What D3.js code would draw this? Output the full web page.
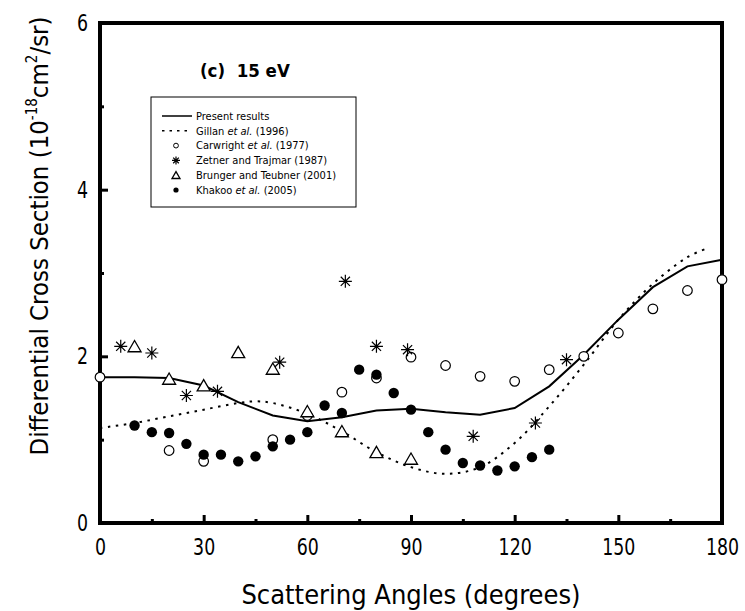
<!DOCTYPE html>
<html>
<head>
<meta charset="utf-8">
<script src="https://cdn.jsdelivr.net/npm/d3@7/dist/d3.min.js"></script>
<style>
  html, body { margin: 0; padding: 0; background: #fff; }
  svg { display: block; }
  text { font-family: "DejaVu Sans Condensed", "DejaVu Sans", sans-serif; fill: #000; }
</style>
</head>
<body>
<svg id="chart" width="745" height="611"></svg>
<script>
// Differential cross sections at 15 eV (units of 1e-18 cm^2/sr)
const presentAngles = [0, 10, 20, 30, 40, 50, 60, 70, 80, 90, 100, 110, 120, 130, 140, 150, 160, 170, 180];
const presentValues = [1.75, 1.75, 1.74, 1.65, 1.45, 1.29, 1.22, 1.27, 1.35, 1.37, 1.33, 1.30, 1.38, 1.64, 2.02, 2.44, 2.83, 3.08, 3.16];

const gillanAngles = [0, 10, 20, 30, 40, 45, 50, 60, 70, 80, 90, 100, 110, 120, 130, 140, 150, 160, 170, 176];
const gillanValues = [1.14, 1.20, 1.28, 1.36, 1.44, 1.46, 1.44, 1.31, 1.10, 0.85, 0.67, 0.59, 0.67, 0.96, 1.40, 1.90, 2.44, 2.87, 3.19, 3.30];

const carwrightAngles = [0, 20, 30, 50, 60, 70, 80, 90, 100, 110, 120, 130, 140, 150, 160, 170, 180];
const carwrightValues = [1.75, 0.87, 0.74, 1.00, 1.29, 1.57, 1.74, 1.99, 1.89, 1.76, 1.70, 1.84, 2.00, 2.28, 2.57, 2.79, 2.92];

const zetnerAngles = [6, 15, 25, 34, 52, 71, 80, 89, 108, 126, 135];
const zetnerValues = [2.12, 2.04, 1.53, 1.58, 1.93, 2.90, 2.12, 2.08, 1.04, 1.20, 1.96];

const brungerAngles = [10, 20, 30, 40, 50, 60, 70, 80, 90];
const brungerValues = [2.10, 1.71, 1.63, 2.03, 1.83, 1.32, 1.08, 0.83, 0.75];

const khakooAngles = [10, 15, 20, 25, 30, 35, 40, 45, 50, 55, 60, 65, 70, 75, 80, 85, 90, 95, 100, 105, 110, 115, 120, 125, 130];
const khakooValues = [1.17, 1.09, 1.08, 0.95, 0.82, 0.82, 0.74, 0.80, 0.92, 1.00, 1.09, 1.41, 1.32, 1.84, 1.78, 1.56, 1.36, 1.09, 0.88, 0.72, 0.69, 0.63, 0.68, 0.79, 0.88];

const xMajorTicks = [0, 30, 60, 90, 120, 150, 180];
const xMinorTicks = [15, 45, 75, 105, 135, 165];
const yMajorTicks = [0, 2, 4, 6];
const yMinorTicks = [1, 3, 5];

const legendLabels = [
  ["Present results"],
  ["Gillan ", "et al.", " (1996)"],
  ["Carwright ", "et al.", " (1977)"],
  ["Zetner and Trajmar (1987)"],
  ["Brunger and Teubner (2001)"],
  ["Khakoo ", "et al.", " (2005)"]
];

const zip = (a, b) => a.map((d, i) => [d, b[i]]);

const svg = d3.select("#chart");
const plotLeft = 100, plotRight = 722, plotTop = 23, plotBottom = 523;
const x = d3.scaleLinear().domain([0, 180]).range([plotLeft, plotRight]);
const y = d3.scaleLinear().domain([0, 6]).range([plotBottom, plotTop]);

// tick labels are set in a narrow face: tall digits, squeezed horizontally
const tickFont = 23, squeeze = 0.84;

// axes with inward ticks
const gx = svg.append("g").attr("transform", `translate(0,${plotBottom})`)
  .call(d3.axisBottom(x).tickValues(xMajorTicks).tickSizeInner(-8).tickSizeOuter(0).tickPadding(16).tickFormat(d3.format("d")));
gx.select(".domain").remove();
gx.selectAll("line").attr("stroke-width", 3);
gx.selectAll("text").attr("font-size", tickFont).attr("transform", `scale(${squeeze},1)`);

const gxm = svg.append("g").attr("transform", `translate(0,${plotBottom})`)
  .call(d3.axisBottom(x).tickValues(xMinorTicks).tickSizeInner(-4).tickSizeOuter(0).tickFormat(""));
gxm.select(".domain").remove();
gxm.selectAll("line").attr("stroke-width", 3);

const gy = svg.append("g").attr("transform", `translate(${plotLeft},0)`)
  .call(d3.axisLeft(y).tickValues(yMajorTicks).tickSizeInner(-8).tickSizeOuter(0).tickPadding(12).tickFormat(d3.format("d")));
gy.select(".domain").remove();
gy.selectAll("line").attr("stroke-width", 3);
gy.selectAll("text").attr("font-size", tickFont)
  .attr("x", -12 / squeeze).attr("transform", `scale(${squeeze},1)`);

const gym = svg.append("g").attr("transform", `translate(${plotLeft},0)`)
  .call(d3.axisLeft(y).tickValues(yMinorTicks).tickSizeInner(-4).tickSizeOuter(0).tickFormat(""));
gym.select(".domain").remove();
gym.selectAll("line").attr("stroke-width", 3);

// plot frame
svg.append("rect")
  .attr("x", plotLeft).attr("y", plotTop)
  .attr("width", plotRight - plotLeft).attr("height", plotBottom - plotTop)
  .attr("fill", "none").attr("stroke", "#000").attr("stroke-width", 4);

// theory curves
const line = d3.line().x(d => x(d[0])).y(d => y(d[1]));
svg.append("path")
  .attr("d", line(zip(presentAngles, presentValues)))
  .attr("fill", "none").attr("stroke", "#000").attr("stroke-width", 2);

svg.append("path")
  .attr("d", line.curve(d3.curveCatmullRom)(zip(gillanAngles, gillanValues)))
  .attr("fill", "none").attr("stroke", "#000").attr("stroke-width", 2)
  .attr("stroke-dasharray", "2.5,5.5");

// marker drawing helpers
function asterisk(g, cx, cy, r) {
  const p = d3.path();
  for (let k = 0; k < 4; k++) {
    const a = k * Math.PI / 4;
    p.moveTo(cx - r * Math.cos(a), cy - r * Math.sin(a));
    p.lineTo(cx + r * Math.cos(a), cy + r * Math.sin(a));
  }
  g.append("path").attr("d", p.toString()).attr("stroke", "#000").attr("stroke-width", 1.2).attr("fill", "none");
}
function triangle(g, cx, cy, s) {
  const h = s * Math.sqrt(3) / 2;
  const pts = [[cx, cy - h * 2 / 3], [cx + s / 2, cy + h / 3], [cx - s / 2, cy + h / 3]];
  g.append("path").attr("d", "M" + pts.join("L") + "Z")
    .attr("fill", "#fff").attr("stroke", "#000").attr("stroke-width", 1.3);
}

const marks = svg.append("g");
// Carwright: open circles
marks.selectAll("circle.cw").data(zip(carwrightAngles, carwrightValues)).join("circle")
  .attr("class", "cw").attr("cx", d => x(d[0])).attr("cy", d => y(d[1])).attr("r", 4.8)
  .attr("fill", "#fff").attr("stroke", "#000").attr("stroke-width", 1.2);
// Brunger: open triangles
zip(brungerAngles, brungerValues).forEach(d => triangle(marks, x(d[0]), y(d[1]), 13));
// Zetner: asterisks
zip(zetnerAngles, zetnerValues).forEach(d => asterisk(marks, x(d[0]), y(d[1]), 6.5));
// Khakoo: filled circles
marks.selectAll("circle.kh").data(zip(khakooAngles, khakooValues)).join("circle")
  .attr("class", "kh").attr("cx", d => x(d[0])).attr("cy", d => y(d[1])).attr("r", 5.2)
  .attr("fill", "#000");

// panel label
svg.append("text").attr("x", 200).attr("y", 77)
  .attr("font-size", 18.5).attr("font-weight", "bold")
  .attr("xml:space", "preserve").text("(c)  15 eV");

// legend
const lg = svg.append("g");
lg.append("rect").attr("x", 151).attr("y", 97).attr("width", 205).attr("height", 110)
  .attr("fill", "#fff").attr("stroke", "#000").attr("stroke-width", 1);
const ly0 = 116, ldy = 14.8, lsx = 176, ltx = 196;
lg.append("line").attr("x1", 162).attr("x2", 192).attr("y1", ly0).attr("y2", ly0)
  .attr("stroke", "#000").attr("stroke-width", 1.5);
lg.append("line").attr("x1", 162).attr("x2", 192).attr("y1", ly0 + ldy).attr("y2", ly0 + ldy)
  .attr("stroke", "#000").attr("stroke-width", 1.5).attr("stroke-dasharray", "2.5,5");
lg.append("circle").attr("cx", lsx).attr("cy", ly0 + 2 * ldy).attr("r", 2.4)
  .attr("fill", "#fff").attr("stroke", "#000").attr("stroke-width", 1);
asterisk(lg, lsx, ly0 + 3 * ldy, 4);
triangle(lg, lsx, ly0 + 4 * ldy + 1, 8);
lg.append("circle").attr("cx", lsx).attr("cy", ly0 + 5 * ldy).attr("r", 2.6).attr("fill", "#000");

legendLabels.forEach((parts, i) => {
  const t = lg.append("text").attr("x", ltx).attr("y", ly0 + i * ldy).attr("dy", "0.35em")
    .attr("font-size", 11);
  parts.forEach(p => {
    const s = t.append("tspan").text(p);
    if (p === "et al.") s.attr("font-style", "italic");
  });
});

// axis titles
svg.append("text").attr("x", 411).attr("y", 604).attr("text-anchor", "middle")
  .attr("font-size", 27).text("Scattering Angles (degrees)");

const yt = svg.append("text")
  .attr("transform", "translate(48,236) rotate(-90)")
  .attr("text-anchor", "middle").attr("font-size", 25.5);
yt.append("tspan").text("Differential Cross Section (10");
yt.append("tspan").attr("font-size", 15).attr("dy", -11).text("-18");
yt.append("tspan").attr("dy", 11).text("cm");
yt.append("tspan").attr("font-size", 15).attr("dy", -11).text("2");
yt.append("tspan").attr("dy", 11).text("/sr)");
</script>
</body>
</html>
